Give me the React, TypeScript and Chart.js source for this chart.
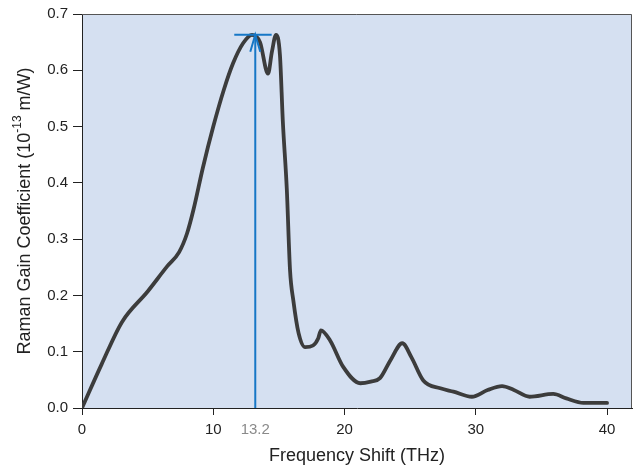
import { useEffect, useRef } from "react";
import { Chart, registerables } from "chart.js";

Chart.register(...registerables);

// Frequency shift (THz) and Raman gain coefficient (1e-13 m/W)
const freqTHz = [
  0, 1.5, 3.05, 5.0, 6.5, 7.4, 8.0, 8.5, 9.2, 10.0, 10.8, 11.5, 12.27,
  12.95, 13.56, 14.17, 14.47, 14.78, 15.08, 15.3, 15.6, 15.85, 16.1, 16.5, 17.0, 17.6,
  18.0, 18.2, 18.9, 19.9, 21.2, 22.0, 22.7, 23.5, 24.4, 25.1, 26.0, 27.3, 28.3, 29.7,
  30.9, 32.0, 32.9, 34.1, 35.9, 36.9, 38.2, 40.0,
];
const gainCoeff = [
  0, 0.078, 0.153, 0.207, 0.252, 0.277, 0.31, 0.353, 0.426, 0.5, 0.565, 0.612, 0.648,
  0.663, 0.65, 0.594, 0.633, 0.663, 0.627, 0.509, 0.39, 0.244, 0.191,
  0.133, 0.108, 0.111, 0.124, 0.138, 0.12, 0.073, 0.044, 0.047, 0.053, 0.085, 0.115,
  0.09, 0.049, 0.035, 0.029, 0.02, 0.032, 0.039, 0.032, 0.02, 0.025, 0.017, 0.009, 0.009,
];

// Peak marker
const markerFreq = 13.2;
const markerGain = 0.663;
const barFrom = 11.6;
const barTo = 14.45;
const arrowHalfWidth = 0.38;
const arrowDepth = 0.03;

// Axes
const xTickValues = [0, 10, 13.2, 20, 30, 40];
const xMin = 0;
const xMax = 41.9;
const yTickValues = [0, 0.1, 0.2, 0.3, 0.4, 0.5, 0.6, 0.7];
const yMin = 0;
const yMax = 0.7;
const xTitle = "Frequency Shift (THz)";
const yTitleMain = "Raman Gain Coefficient (10";
const yTitleSup = "-13";
const yTitleEnd = " m/W)";

const FONT = "'Liberation Sans', Arial, Helvetica, sans-serif";
const BLUE = "#1677c6";
const CURVE = "#3c3c3c";
const PLOT_BG = "rgb(213,224,241)";

export default function App() {
  const canvasRef = useRef<HTMLCanvasElement | null>(null);

  useEffect(() => {
    document.body.style.margin = "0";
    const canvas = canvasRef.current;
    if (!canvas) return;

    const curve = freqTHz.map((x, i) => ({ x, y: gainCoeff[i] }));
    const stem = [
      { x: markerFreq, y: 0 },
      { x: markerFreq, y: markerGain },
    ];
    const bar = [
      { x: barFrom, y: markerGain },
      { x: barTo, y: markerGain },
    ];
    const head = [
      { x: markerFreq - arrowHalfWidth, y: markerGain - arrowDepth },
      { x: markerFreq, y: markerGain },
      { x: markerFreq + arrowHalfWidth, y: markerGain - arrowDepth },
    ];

    const framePlugin = {
      id: "frame",
      beforeDraw(chart: any) {
        const { ctx, chartArea } = chart;
        ctx.save();
        ctx.fillStyle = PLOT_BG;
        ctx.fillRect(chartArea.left, chartArea.top, chartArea.right - chartArea.left, chartArea.bottom - chartArea.top);
        ctx.restore();
      },
      afterDraw(chart: any) {
        const { ctx, chartArea } = chart;
        ctx.save();
        ctx.strokeStyle = "#555";
        ctx.lineWidth = 1;
        ctx.beginPath();
        ctx.moveTo(chartArea.left, chartArea.top + 0.5);
        ctx.lineTo(chartArea.right - 0.5, chartArea.top + 0.5);
        ctx.lineTo(chartArea.right - 0.5, chartArea.bottom);
        ctx.stroke();

        // x title
        ctx.fillStyle = "#222";
        ctx.font = `18px ${FONT}`;
        ctx.textAlign = "center";
        ctx.textBaseline = "middle";
        ctx.fillText(xTitle, (chartArea.left + chartArea.right) / 2, 456);

        // y title with superscript
        const cy = (chartArea.top + chartArea.bottom) / 2;
        ctx.translate(25, cy);
        ctx.rotate(-Math.PI / 2);
        ctx.textAlign = "left";
        ctx.textBaseline = "middle";
        ctx.font = `18px ${FONT}`;
        const w1 = ctx.measureText(yTitleMain).width;
        const w3 = ctx.measureText(yTitleEnd).width;
        ctx.font = `12px ${FONT}`;
        const w2 = ctx.measureText(yTitleSup).width;
        let x0 = -(w1 + w2 + w3) / 2;
        ctx.font = `18px ${FONT}`;
        ctx.fillText(yTitleMain, x0, 0);
        x0 += w1;
        ctx.font = `12px ${FONT}`;
        ctx.fillText(yTitleSup, x0, -7);
        x0 += w2;
        ctx.font = `18px ${FONT}`;
        ctx.fillText(yTitleEnd, x0, 0);
        ctx.restore();
      },
    };

    const chart = new Chart(canvas, {
      type: "line",
      data: {
        datasets: [
          { data: head, borderColor: BLUE, borderWidth: 2, pointRadius: 0, tension: 0, order: 0 },
          { data: stem, borderColor: BLUE, borderWidth: 2, pointRadius: 0, tension: 0, order: 0 },
          { data: bar, borderColor: BLUE, borderWidth: 2, pointRadius: 0, tension: 0, order: 0 },
          {
            data: curve,
            borderColor: CURVE,
            borderWidth: 3.8,
            pointRadius: 0,
            cubicInterpolationMode: "monotone",
            borderCapStyle: "round",
            borderJoinStyle: "round",
            order: 1,
          },
        ] as any,
      },
      options: {
        animation: false,
        responsive: true,
        maintainAspectRatio: false,
        events: [],
        layout: { padding: { top: 12, right: 6, left: 0, bottom: 0 } },
        plugins: { legend: { display: false }, tooltip: { enabled: false } },
        scales: {
          x: {
            type: "linear",
            min: xMin,
            max: xMax,
            afterBuildTicks: (scale: any) => {
              scale.ticks = xTickValues.map((v) => ({ value: v }));
            },
            afterFit: (scale: any) => {
              scale.height = 67;
            },
            ticks: {
              autoSkip: false,
              maxRotation: 0,
              padding: 6,
              font: { family: FONT, size: 15 },
              color: (c: any) => (c.tick && c.tick.value === markerFreq ? "#8a8a8a" : "#222"),
              callback: (v: any) => String(v),
            },
            grid: {
              drawOnChartArea: false,
              drawTicks: true,
              tickLength: 7,
              tickColor: (c: any) => (c.tick && c.tick.value === markerFreq ? "rgba(0,0,0,0)" : "#222"),
            },
            border: { display: true, color: "#222", width: 1 },
          },
          y: {
            type: "linear",
            min: yMin,
            max: yMax,
            afterBuildTicks: (scale: any) => {
              scale.ticks = yTickValues.map((v) => ({ value: v }));
            },
            afterFit: (scale: any) => {
              scale.width = 82;
            },
            ticks: {
              padding: 5,
              font: { family: FONT, size: 15 },
              color: "#222",
              callback: (v: any) => Number(v).toFixed(1),
            },
            grid: {
              drawOnChartArea: false,
              drawTicks: true,
              tickLength: 9,
              tickColor: "#222",
            },
            border: { display: true, color: "#222", width: 1 },
          },
        },
      },
      plugins: [framePlugin],
    });

    return () => chart.destroy();
  }, []);

  return (
    <div style={{ width: 638, height: 475, position: "relative" }}>
      <canvas ref={canvasRef} />
    </div>
  );
}
